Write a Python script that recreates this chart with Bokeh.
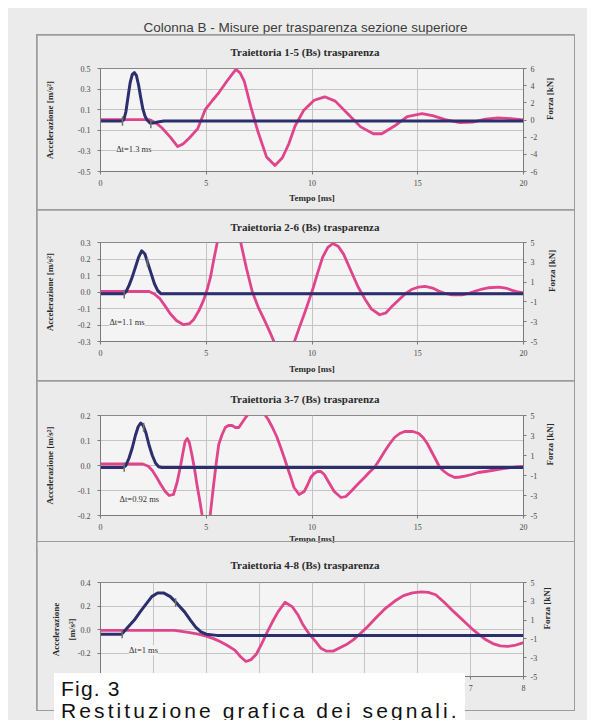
import math
import numpy as np
from bokeh.plotting import figure
from bokeh.models import Range1d, LinearAxis, FixedTicker, NumeralTickFormatter, Label, Div
from bokeh.layouts import column
from bokeh.embed import file_html
from bokeh.resources import INLINE

# ---------------- texts ----------------
main_title = "Colonna B - Misure per trasparenza sezione superiore"
panel_titles = ["Traiettoria 1-5 (Bs) trasparenza", "Traiettoria 2-6 (Bs) trasparenza",
                "Traiettoria 3-7 (Bs) trasparenza", "Traiettoria 4-8 (Bs) trasparenza"]
dt_texts = ["Δt=1.3 ms", "Δt=1.1 ms", "Δt=0.92 ms", "Δt=1 ms"]
caption_lines = ["Fig. 3", "Restituzione grafica dei segnali."]
x_label = "Tempo [ms]"
acc_labels = ["Accelerazione [m/s²]"] * 3 + ["Accelerazione\n[m/s²]"]
force_label = "Forza [kN]"

# ---------------- axes ----------------
time_max = [20, 20, 20, 8]
time_ticks = [[0, 5, 10, 15, 20]] * 3 + [[0, 1, 2, 3, 4, 5, 6, 7, 8]]
acc_ranges = [(-0.5, 0.5), (-0.3, 0.3), (-0.2, 0.2), (-0.4, 0.4)]
acc_ticks = [[-0.5, -0.3, -0.1, 0.1, 0.3, 0.5],
             [-0.3, -0.2, -0.1, 0.0, 0.1, 0.2, 0.3],
             [-0.2, -0.1, 0.0, 0.1, 0.2],
             [-0.4, -0.2, 0.0, 0.2, 0.4]]
force_ranges = [(-6, 6), (-5, 5), (-5, 5), (-5, 5)]
force_ticks = [[-6, -4, -2, 0, 2, 4, 6]] + [[-5, -3, -1, 1, 3, 5]] * 3

# ---------------- panel 1 ----------------
t1_acc = [0, 1.0, 1.1, 1.2, 1.3, 1.4, 1.5, 1.6, 1.7, 1.8, 1.9, 2.0, 2.1, 2.2, 2.35, 2.5, 2.7, 3.0, 20]
acc1 = [-0.01, -0.01, 0.0, 0.08, 0.22, 0.36, 0.44, 0.46, 0.43, 0.34, 0.22, 0.11, 0.04, 0.0, -0.03, -0.03, -0.02, -0.01, -0.01]
t1_force = [0, 2.3, 2.6, 2.9, 3.3, 3.65, 3.9, 4.2, 4.6, 4.95, 5.3, 5.6, 6.0, 6.4, 6.6, 6.8, 7.1, 7.45, 7.85, 8.25,
            8.6, 8.9, 9.2, 9.6, 10.1, 10.6, 11.1, 11.7, 12.3, 12.9, 13.3, 13.9, 14.5, 15.2, 15.7, 16.3, 17.0, 17.6,
            18.2, 18.8, 19.4, 20.0]
force1 = [0.05, 0.05, -0.3, -0.9, -2.0, -3.1, -2.8, -2.1, -1.0, 1.2, 2.3, 3.2, 4.6, 5.9, 5.5, 4.5, 1.6, -1.4, -4.3, -5.3,
          -4.4, -2.8, -0.7, 1.1, 2.3, 2.7, 2.2, 0.7, -0.8, -1.6, -1.6, -0.7, 0.4, 0.75, 0.5, 0.05, -0.3, -0.25,
          0.1, 0.25, 0.15, 0.0]
onset1 = [1.04, 2.38]

# ---------------- panel 2 ----------------
t2_acc = [0, 1.12, 1.2, 1.35, 1.5, 1.65, 1.8, 1.95, 2.1, 2.25, 2.4, 2.55, 2.7, 2.85, 3.0, 20]
acc2 = [-0.01, -0.01, 0.0, 0.04, 0.09, 0.15, 0.21, 0.25, 0.23, 0.17, 0.11, 0.05, 0.01, -0.01, -0.01, -0.01]
t2_force = [0, 2.3, 2.55, 2.82, 3.05, 3.3, 3.6, 3.93, 4.2, 4.4, 4.65, 4.88, 5.05, 5.2, 5.35, 5.52, 5.8, 6.08, 6.35,
            6.63, 6.9, 7.18, 7.45, 7.74, 8.0, 8.2, 8.45, 8.68, 8.9, 9.17, 9.4, 9.64, 9.85, 10.04, 10.25, 10.5, 10.75,
            10.99, 11.25, 11.5, 11.85, 12.18, 12.5, 12.8, 13.2, 13.5, 13.76, 14.1, 14.4, 14.7, 15.04, 15.35, 15.7,
            15.99, 16.3, 16.62, 17.1, 17.4, 17.73, 18.05, 18.37, 18.84, 19.15, 19.47, 19.75, 20.0]
force2 = [0.05, 0.05, -0.2, -0.7, -1.4, -2.2, -2.9, -3.3, -3.2, -2.8, -1.9, -0.8, 0.3, 1.5, 3.2, 5.0, 7.8, 8.8, 7.8,
          5.0, 2.4, 0.0, -1.5, -2.8, -4.0, -5.0, -6.6, -7.0, -6.6, -5.0, -3.6, -2.2, -0.9, 0.3, 1.8, 3.5, 4.5,
          4.9, 4.6, 3.8, 2.1, 0.5, -0.7, -1.7, -2.3, -2.1, -1.5, -0.8, -0.2, 0.25, 0.5, 0.57, 0.4,
          0.1, -0.15, -0.3, -0.3, -0.15, 0.1, 0.3, 0.43, 0.5, 0.4, 0.17, 0.0, -0.1]
onset2 = [1.12, 2.22]

# ---------------- panel 3 ----------------
t3_acc = [0, 1.08, 1.2, 1.35, 1.5, 1.65, 1.78, 1.9, 2.02, 2.15, 2.3, 2.45, 2.6, 2.75, 2.9, 20]
acc3 = [-0.008, -0.008, 0.0, 0.03, 0.07, 0.12, 0.155, 0.17, 0.16, 0.13, 0.08, 0.04, 0.01, -0.005, -0.008, -0.008]
t3_force = [0, 2.0, 2.26, 2.45, 2.66, 2.85, 3.06, 3.25, 3.45, 3.62, 3.77, 3.9, 4.0, 4.1, 4.2, 4.32, 4.45, 4.56, 4.7,
            4.8, 4.96, 5.1, 5.19, 5.35, 5.47, 5.59, 5.75, 5.9, 6.05, 6.22, 6.38, 6.54, 6.7, 6.86, 7.05, 7.3, 7.5,
            7.73, 7.93, 8.13, 8.33, 8.52, 8.7, 8.84, 9.0, 9.15, 9.39, 9.63, 9.8, 9.94, 10.1, 10.26, 10.42, 10.58,
            10.8, 11.05, 11.37, 11.6, 11.84, 12.15, 12.48, 12.7, 12.95, 13.2, 13.43, 13.65, 13.9, 14.15, 14.38,
            14.77, 15.05, 15.25, 15.45, 15.65, 15.85, 16.04, 16.25, 16.44, 16.75, 17.0, 17.23, 17.55, 17.86, 18.2,
            18.5, 18.9, 19.3, 19.65, 20.0]
force3 = [0.15, 0.15, -0.07, -0.5, -1.2, -1.9, -2.6, -3.0, -2.9, -1.7, -0.2, 1.3, 2.4, 2.7, 2.3, 1.1, -0.4, -1.9, -3.6,
          -4.9, -6.3, -6.0, -4.9, -1.9, 0.2, 2.1, 3.1, 3.8, 4.0, 4.0, 3.8, 3.8, 4.3, 4.8, 5.3, 5.6, 5.6,
          5.2, 4.6, 3.8, 2.9, 1.8, 0.7, -0.2, -1.2, -2.2, -2.9, -2.6, -1.9, -1.2, -0.8, -0.6, -0.6, -0.9,
          -1.7, -2.6, -3.2, -3.1, -2.6, -1.9, -1.2, -0.7, -0.2, 0.6, 1.4, 2.1, 2.8, 3.2, 3.4,
          3.4, 3.2, 2.8, 2.2, 1.4, 0.6, -0.2, -0.6, -0.9, -1.2, -1.15, -1.07, -0.9, -0.7, -0.6,
          -0.5, -0.35, -0.23, -0.15, -0.1]
onset3 = [1.12, 2.04]

# ---------------- panel 4 ----------------
t4_acc = [0, 0.4, 0.5, 0.64, 0.75, 0.85, 0.97, 1.08, 1.2, 1.32, 1.45, 1.59, 1.7, 1.8, 1.9, 2.0, 2.2, 8.0]
acc4 = [-0.04, -0.04, 0.01, 0.08, 0.15, 0.21, 0.28, 0.31, 0.31, 0.28, 0.22, 0.15, 0.08, 0.02, -0.02, -0.04, -0.05, -0.05]
t4_force = [0, 1.4, 1.66, 1.85, 2.0, 2.15, 2.27, 2.4, 2.54, 2.65, 2.75, 2.85, 2.95, 3.05, 3.15, 3.26, 3.36, 3.49,
            3.63, 3.73, 3.83, 3.95, 4.07, 4.17, 4.27, 4.4, 4.51, 4.65, 4.78, 4.92, 5.05, 5.22, 5.39, 5.56, 5.73,
            5.9, 6.07, 6.2, 6.34, 6.5, 6.68, 6.85, 7.02, 7.15, 7.29, 7.42, 7.56, 7.7, 7.83, 8.0]
force4 = [-0.1, -0.1, -0.3, -0.5, -0.7, -1.0, -1.3, -1.7, -2.2, -2.9, -3.4, -3.2, -2.6, -1.5, -0.3, 0.9, 1.9, 2.9,
          2.4, 1.6, 0.5, -0.5, -1.3, -2.0, -2.3, -2.3, -2.0, -1.6, -1.1, -0.4, 0.3, 1.3, 2.25, 3.0, 3.6,
          3.9, 4.0, 3.95, 3.7, 2.9, 1.9, 1.0, 0.1, -0.5, -1.1, -1.5, -1.75, -1.8, -1.7, -1.4]
onset4 = [0.41, 1.42]

series = [(t1_acc, acc1, t1_force, force1, onset1),
          (t2_acc, acc2, t2_force, force2, onset2),
          (t3_acc, acc3, t3_force, force3, onset3),
          (t4_acc, acc4, t4_force, force4, onset4)]

# ---------------- layout / style ----------------
PAGE_BG = "#ebebeb"
PLOT_BG = "#f4f4f4"
FRAME = "#9c9c9c"
OUTLINE = "#8a8a8a"
GRID = "#c4c4c4"
AXIS = "#7a7a7a"
BLUE = "#2c2f6d"
PINK = "#e0448b"
MARK = "#707070"
SERIF = "Liberation Serif"

BORDER_L, BORDER_R = 63, 51          # shared by all panels (column aligns frames)
# figure height, top / bottom borders, title standoff, x/left/right axis-title standoffs
geom = [dict(h=174, t=33, b=38, ts=19, xs=4, ls=20, rs=10),
        dict(h=170, t=32, b=39, ts=18, xs=5, ls=20, rs=12),
        dict(h=166, t=34, b=32, ts=20, xs=1, ls=20, rs=10),
        dict(h=169, t=40, b=35, ts=21, xs=2, ls=-2, rs=7)]
dt_pos = [(0.74, -0.28), (0.42, -0.184), (0.9, -0.134), (0.54, -0.177)]


def style_axis(ax, ticks, fmt):
    ax.ticker = FixedTicker(ticks=ticks)
    ax.formatter = NumeralTickFormatter(format=fmt)
    ax.axis_line_color = AXIS
    ax.major_tick_line_color = AXIS
    ax.major_tick_out = 3
    ax.major_tick_in = 0
    ax.minor_tick_out = 0
    ax.minor_tick_in = 0
    ax.major_label_text_font = SERIF
    ax.major_label_text_font_size = "8px"
    ax.major_label_text_color = "#4a4a4a"
    ax.axis_label_text_font = SERIF
    ax.axis_label_text_font_size = "9px"
    ax.axis_label_text_font_style = "bold"
    ax.axis_label_text_color = "#2a2a2a"


def build(i):
    g = geom[i]
    t_acc, acc, t_f, force, onset = series[i]
    ymin, ymax = acc_ranges[i]
    p = figure(width=537, height=g["h"], x_range=Range1d(0, time_max[i]),
               y_range=Range1d(ymin, ymax), output_backend="svg", toolbar_location=None,
               min_border_left=BORDER_L, min_border_right=BORDER_R,
               min_border_top=g["t"], min_border_bottom=g["b"],
               background_fill_color=PLOT_BG, border_fill_color=PAGE_BG,
               outline_line_color=OUTLINE, outline_line_width=1)
    p.title.text = panel_titles[i]
    p.title.align = "left"
    p.title.offset = 130
    p.title.vertical_align = "middle"
    p.title.standoff = g["ts"]
    p.title.text_font = SERIF
    p.title.text_font_style = "bold"
    p.title.text_font_size = "11px"
    p.title.text_color = "#2a2a2a"

    xa = p.xaxis[0]
    style_axis(xa, time_ticks[i], "0")
    xa.major_label_standoff = 5
    xa.axis_label = x_label
    xa.axis_label_standoff = g["xs"]

    la = p.yaxis[0]
    style_axis(la, acc_ticks[i], "0.0")
    la.major_label_standoff = 7
    la.axis_label = acc_labels[i]
    la.axis_label_standoff = g["ls"]
    la.axis_label_text_line_height = 1.6

    p.extra_y_ranges = {"force": Range1d(*force_ranges[i])}
    ra = LinearAxis(y_range_name="force")
    style_axis(ra, force_ticks[i], "0")
    ra.major_label_standoff = 4
    ra.axis_label = force_label
    ra.axis_label_standoff = g["rs"]
    ra.axis_label_orientation = math.pi / 2
    p.add_layout(ra, "right")

    p.xgrid.ticker = FixedTicker(ticks=time_ticks[i])
    p.ygrid.ticker = FixedTicker(ticks=acc_ticks[i])
    p.xgrid.grid_line_color = GRID
    p.ygrid.grid_line_color = GRID

    p.line(t_f, force, y_range_name="force", line_color=PINK, line_width=2.8,
           line_join="round", line_cap="round")
    p.line(t_acc, acc, line_color=BLUE, line_width=3.0, line_join="round", line_cap="round")

    span = ymax - ymin
    centers = [float(np.interp(m, t_acc, acc)) for m in onset]
    p.segment(x0=onset, x1=onset, y0=[c - 0.05 * span for c in centers],
              y1=[c + 0.04 * span for c in centers], line_color=MARK, line_width=1.5)

    p.add_layout(Label(x=dt_pos[i][0], y=dt_pos[i][1], text=dt_texts[i], text_font=SERIF,
                       text_font_size="8.5px", text_color="#333333", text_baseline="middle",
                       background_fill_color=PLOT_BG, background_fill_alpha=1.0))
    return p


plots = [build(i) for i in range(4)]
# the last panel slides up over the foot of panel 3 (whose x title is cut by the divider)
plots[3].margin = (-7, 0, 0, 0)
plots[3].styles = {"border-top": "1px solid " + FRAME}

header = Div(text=main_title, width=539, height=26, margin=(0, 0, 0, 28),
             styles={"font-family": "'Liberation Sans', Arial, sans-serif", "font-size": "13.5px",
                     "color": "#3c3c3c", "text-align": "center", "padding-top": "10px",
                     "box-sizing": "border-box"})

frame_col = column(*plots, spacing=1, margin=(0, 0, 0, 28),
                   styles={"border": "1px solid " + FRAME, "background-color": FRAME})

cap_html = ('<span style="letter-spacing:1.2px">' + caption_lines[0] + '</span><br>'
            '<span style="letter-spacing:3.1px">' + caption_lines[1] + '</span>')
caption = Div(text=cap_html, width=411, height=47, margin=(-38, 0, 0, 46),
              styles={"background-color": "white", "font-family": "'Liberation Sans', Arial, sans-serif",
                      "font-size": "21px", "line-height": "22px", "color": "#111111",
                      "padding": "5px 0 0 7px", "overflow": "hidden", "position": "relative",
                      "z-index": "10", "box-sizing": "border-box", "white-space": "nowrap"})

page = column(header, frame_col, caption, width=579, margin=(8, 0, 0, 8),
              styles={"background-color": PAGE_BG})

open("out.html", "w").write(file_html(page, INLINE))
